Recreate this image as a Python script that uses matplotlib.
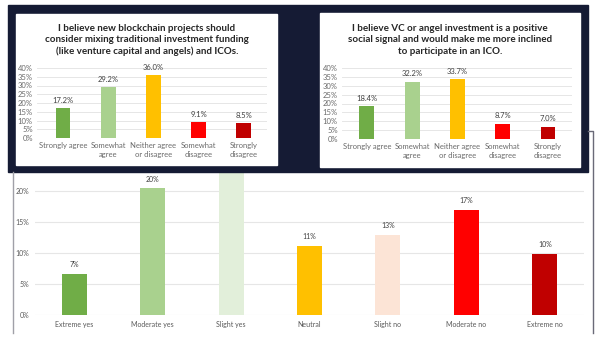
import matplotlib.pyplot as plt
from matplotlib.patches import Rectangle
from matplotlib.lines import Line2D

plt.rcParams['font.family'] = ['Lato', 'DejaVu Sans']

W, H = 600, 349

# survey: how much would VC backing sway you
sway_cats = ['Extreme yes', 'Moderate yes', 'Slight yes', 'Neutral',
             'Slight no', 'Moderate no', 'Extreme no']
sway_vals = [6.6, 20.4, 23.4, 11.1, 12.9, 16.9, 9.8]
sway_colors = ['#70ad47', '#a9d18e', '#e2efda', '#ffc000',
               '#fce4d6', '#ff0000', '#c00000']

# likert panels
likert_cats = ['Strongly agree', 'Somewhat\nagree', 'Neither agree\nor disagree',
               'Somewhat\ndisagree', 'Strongly\ndisagree']
likert_colors = ['#70ad47', '#a9d18e', '#ffc000', '#ff0000', '#c00000']
mix_title = ('I believe new blockchain projects should\n'
             'consider mixing traditional investment funding\n'
             '(like venture capital and angels) and ICOs.')
mix_vals = [17.2, 29.2, 36.0, 9.1, 8.5]
vc_title = ('I believe VC or angel investment is a positive\n'
            'social signal and would make me more inclined\n'
            'to participate in an ICO.')
vc_vals = [18.4, 32.2, 33.7, 8.7, 7.0]


def box(x0, y0, x1, y1):
    # pixel box (top-left origin) -> figure fraction rect
    return [x0 / W, 1 - y1 / H, (x1 - x0) / W, (y1 - y0) / H]


fig = plt.figure(figsize=(6, 3.49), dpi=100)

# ---- bottom chart ----
ax = fig.add_axes(box(35, 159.5, 584, 315), zorder=0)
x = range(len(sway_cats))
ax.bar(x, sway_vals, width=0.32, color=sway_colors, zorder=2)
for i, v in zip(x, sway_vals):
    ax.text(i, v + 0.9, f'{v:.0f}%', ha='center', va='bottom', fontsize=5, color='#404040')
ax.set_xlim(-0.5, 6.5)
ax.set_ylim(0, 25)
ax.set_yticks([0, 5, 10, 15, 20, 25])
ax.set_yticklabels([f'{t}%' for t in [0, 5, 10, 15, 20, 25]])
ax.set_xticks(list(x))
ax.set_xticklabels(sway_cats)
ax.tick_params(length=0, labelsize=5, colors='#595959', pad=4)
ax.grid(axis='y', color='#e6e6e6', lw=0.8, zorder=0)
for s in ax.spines.values():
    s.set_visible(False)

# frame lines of the bottom chart
fig.add_artist(Line2D([13 / W, 13 / W], [1 - 172 / H, 1 - 333 / H], color='#a0a0a8', lw=1.0))
fig.add_artist(Line2D([588 / W, 593 / W, 593 / W], [1 - 131 / H, 1 - 131 / H, 1 - 333 / H],
                      color='#6a6a78', lw=1.0))

# ---- navy band with the two panels ----
fig.add_artist(Rectangle((8 / W, 1 - 172 / H), 580 / W, 167 / H,
                         transform=fig.transFigure, color='#151b34', zorder=1))
fig.add_artist(Rectangle((16 / W, 1 - 165 / H), 261 / W, 151 / H,
                         transform=fig.transFigure, color='white', zorder=1.5))
fig.add_artist(Rectangle((320 / W, 1 - 167 / H), 260 / W, 154 / H,
                         transform=fig.transFigure, color='white', zorder=1.5))


def likert(rect, xlim, title, vals, tx):
    a = fig.add_axes(box(*rect), zorder=3)
    a.patch.set_alpha(0)
    xs = range(len(vals))
    a.bar(xs, vals, width=0.33, color=likert_colors, zorder=2)
    for i, v in zip(xs, vals):
        a.text(i, v + 2.5, f'{v:.1f}%', ha='center', va='bottom', fontsize=5.5, color='#404040')
    a.set_xlim(*xlim)
    a.set_ylim(0, 40)
    a.set_yticks(range(0, 41, 5))
    a.set_yticklabels([f'{t}%' for t in range(0, 41, 5)])
    a.set_xticks(list(xs))
    a.set_xticklabels(likert_cats, linespacing=1.3)
    a.tick_params(length=0, labelsize=5.5, colors='#6a6a6a', pad=3)
    a.grid(axis='y', color='#e6e6e6', lw=0.7, zorder=0)
    for s in a.spines.values():
        s.set_visible(False)
    fig.text(tx / W, 1 - 40 / H, title, ha='center', va='center', fontsize=7.1,
             fontweight='bold', color='#262626', linespacing=1.3, zorder=4)


likert((37, 68, 267, 138), (-0.575, 4.51), mix_title, mix_vals, 147)
likert((342, 68, 572, 139), (-0.55, 4.53), vc_title, vc_vals, 450)

fig.savefig('out.png', dpi=100)
